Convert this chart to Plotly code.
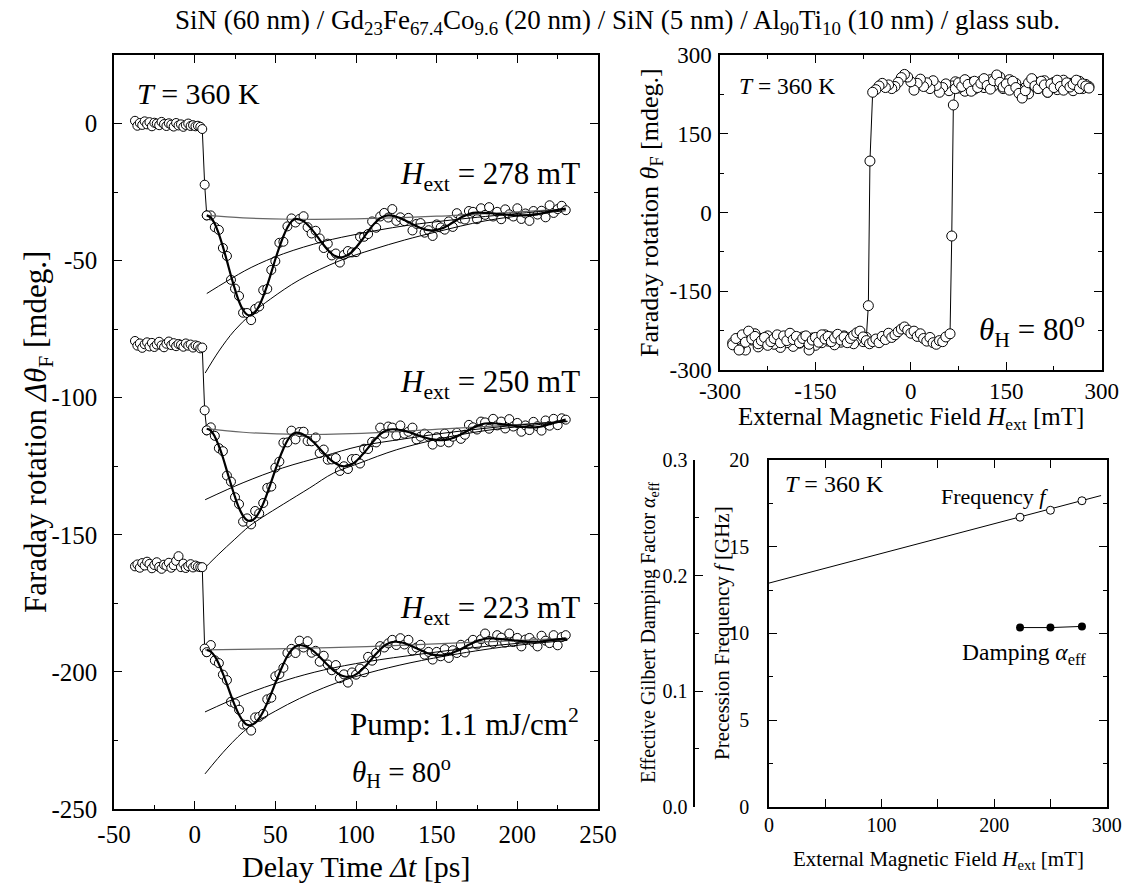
import plotly.graph_objects as go

SERIF = "Liberation Serif"
W, H = 1123, 886

# ---------------- Left panel: time-resolved Faraday rotation ----------------
t_pre = [-37, -35.5, -34, -32.5, -31, -29.5, -28, -26.5, -25, -23.5, -22, -20.5, -19, -17.5,
         -16, -14.5, -13, -11.5, -10, -8.5, -7, -5.5, -4, -2.5, -1, 0.5, 2, 3.5]
t_drop = [4.7, 6.2]
t_post = [7.5, 10, 12.5, 15, 17.5, 20, 22.5, 25, 27.5, 30,
          32.5, 35, 37.5, 40, 42.5, 45, 47.5, 50, 52.5, 55,
          57.5, 60, 62.5, 65, 67.5, 70, 72.5, 75, 77.5, 80,
          82.5, 85, 87.5, 90, 92.5, 95, 97.5, 100, 102.5, 105,
          107.5, 110, 112.5, 115, 117.5, 120, 122.5, 125, 127.5, 130,
          132.5, 135, 137.5, 140, 142.5, 145, 147.5, 150, 152.5, 155,
          157.5, 160, 162.5, 165, 167.5, 170, 172.5, 175, 177.5, 180,
          182.5, 185, 187.5, 190, 192.5, 195, 197.5, 200, 202.5, 205,
          207.5, 210, 212.5, 215, 217.5, 220, 222.5, 225, 227.5, 230]

# H = 278 mT
pre_278 = [1.0, -0.8, 0.2, -0.5, 0.8, -0.3, 0.5, -1.0, 0.3, 0.0, -0.6, 0.6, -0.2, -0.9,
           0.1, -0.4, -1.1, 0.2, -0.7, -0.3, -1.2, -0.5, 0.0, -0.9, -0.6, -1.0, -0.8, -1.2]
drop_278 = [-2.0, -22.3]
data_278 = [-33.5, -33.5, -37.8, -38.8, -45.4, -48.3, -57.0, -60.2, -62.9, -69.0,
            -69.1, -71.7, -67.6, -66.7, -60.8, -60.3, -53.4, -50.2, -43.5, -43.1,
            -37.5, -34.6, -36.1, -34.8, -33.8, -37.8, -40.1, -39.1, -41.9, -45.4,
            -43.8, -48.1, -47.4, -50.7, -47.9, -46.5, -47.0, -46.9, -41.3, -41.3,
            -40.3, -35.7, -38.0, -33.9, -32.6, -34.3, -31.2, -35.5, -34.2, -35.6,
            -34.4, -39.0, -36.6, -36.3, -39.8, -38.9, -41.0, -36.8, -37.9, -38.7,
            -35.7, -37.7, -32.7, -34.6, -35.0, -31.9, -32.2, -34.9, -30.9, -33.3,
            -30.5, -33.9, -32.2, -34.9, -31.3, -33.1, -33.9, -30.9, -34.8, -32.8,
            -35.5, -31.9, -33.2, -31.8, -34.2, -29.8, -32.6, -31.2, -30.0, -31.6]
fit_278 = [-33.5, -34.3, -36.6, -40.3, -44.9, -50.1, -55.5, -60.5, -64.9, -68.0,
           -69.7, -69.9, -68.8, -66.4, -63.0, -58.9, -54.3, -49.5, -45.1, -41.1,
           -37.9, -35.7, -34.8, -35.0, -35.7, -36.9, -38.5, -40.4, -42.4, -44.3,
           -46.1, -47.5, -48.4, -48.8, -48.6, -47.9, -46.8, -45.2, -43.4, -41.4,
           -39.3, -37.4, -35.8, -34.5, -33.8, -33.5, -33.6, -34.0, -34.5, -35.2,
           -35.9, -36.7, -37.5, -38.1, -38.6, -38.9, -39.0, -38.8, -38.4, -37.8,
           -37.0, -36.1, -35.2, -34.3, -33.6, -33.0, -32.6, -32.5, -32.5, -32.6,
           -32.7, -32.8, -33.0, -33.1, -33.2, -33.3, -33.4, -33.5, -33.5, -33.5,
           -33.4, -33.3, -33.1, -32.8, -32.5, -32.1, -31.8, -31.5, -31.2, -31.0]
base_278_t = [7.5, 30, 60, 100, 150, 200, 230]
base_278 = [-33.5, -34.4, -34.9, -34.8, -33.8, -32.2, -31.2]
mid_278_t = [7.5, 20, 35, 55, 80, 102, 130, 170, 210, 230]
mid_278 = [-62.0, -57.5, -52.5, -47.5, -43.0, -40.2, -37.3, -34.5, -32.3, -31.3]
low_278_t = [6.5, 15, 24.5, 35, 47, 65, 90, 110, 130, 150, 180, 210, 230]
low_278 = [-91.0, -83.0, -75.6, -69.5, -64.0, -57.0, -50.0, -46.0, -42.5, -39.5, -35.5, -33.0, -31.8]

# H = 250 mT
pre_250 = [-79.3, -81.0, -80.2, -81.8, -80.5, -79.8, -81.3, -80.0, -81.5, -80.6, -79.6, -80.9, -81.6, -80.3,
           -79.5, -80.8, -80.1, -81.2, -80.4, -80.7, -81.4, -80.2, -81.0, -80.6, -81.7, -80.9, -81.2, -82.0]
drop_250 = [-81.7, -104.6]
data_250 = [-111.9, -110.8, -113.9, -118.4, -119.5, -128.4, -130.6, -136.3, -138.8, -145.2,
            -144.0, -146.2, -141.3, -142.2, -138.4, -132.9, -132.4, -125.5, -123.3, -116.4,
            -116.3, -112.0, -115.2, -112.5, -112.4, -115.8, -115.9, -114.5, -120.2, -118.9,
            -122.6, -122.5, -122.0, -126.7, -125.0, -126.0, -122.4, -122.3, -124.0, -118.6,
            -118.7, -116.1, -116.3, -110.9, -113.1, -110.5, -110.9, -113.8, -110.1, -113.1,
            -112.4, -110.9, -115.2, -114.2, -113.1, -114.2, -117.1, -114.4, -116.1, -113.1,
            -116.3, -114.2, -112.8, -115.0, -113.5, -109.9, -110.8, -111.6, -108.7, -109.0,
            -111.3, -107.7, -110.1, -108.7, -111.2, -107.8, -110.5, -109.2, -112.4, -110.1,
            -111.8, -108.8, -110.4, -112.0, -108.3, -110.2, -107.7, -110.0, -107.5, -108.0]
fit_250 = [-111.3, -112.0, -114.2, -117.6, -121.8, -126.7, -131.6, -136.2, -140.2, -143.1,
           -144.7, -144.9, -143.9, -141.7, -138.6, -134.8, -130.6, -126.3, -122.2, -118.6,
           -115.6, -113.6, -112.8, -112.9, -113.5, -114.4, -115.6, -117.0, -118.6, -120.2,
           -121.7, -123.0, -124.0, -124.7, -125.0, -124.8, -124.2, -123.2, -121.7, -120.1,
           -118.3, -116.4, -114.8, -113.3, -112.3, -111.7, -111.5, -111.6, -111.8, -112.1,
           -112.5, -113.0, -113.5, -114.0, -114.5, -114.9, -115.2, -115.4, -115.5, -115.4,
           -115.2, -114.7, -114.1, -113.4, -112.6, -111.8, -111.0, -110.3, -109.8, -109.4,
           -109.3, -109.3, -109.4, -109.6, -109.8, -110.0, -110.2, -110.4, -110.6, -110.7,
           -110.8, -110.8, -110.7, -110.5, -110.1, -109.7, -109.2, -108.8, -108.3, -108.0]
base_250_t = [7.5, 30, 65, 110, 160, 200, 231]
base_250 = [-111.3, -112.6, -113.4, -112.8, -111.2, -109.8, -108.5]
mid_250_t = [6.5, 30, 54.6, 80, 102, 130, 160, 200, 231]
mid_250 = [-137.2, -131.0, -125.6, -121.3, -117.7, -115.0, -112.5, -110.0, -108.6]
low_250_t = [6.4, 15, 24.5, 34, 42.2, 55, 71.3, 86, 102.4, 125, 150, 180, 210, 231]
low_250 = [-162.0, -157.0, -151.8, -146.8, -143.5, -138.8, -132.9, -127.5, -123.8, -119.0, -115.2, -112.0, -110.0, -108.7]

# H = 223 mT
pre_223 = [-161.5, -160.8, -162.0, -160.3, -161.2, -159.8, -160.6, -162.2, -161.0, -160.0, -161.7, -162.4, -160.9, -161.3,
           -160.2, -162.0, -161.1, -159.5, -157.8, -161.8, -160.5, -162.1, -161.4, -160.7, -161.9, -161.2, -161.6, -161.8]
drop_223 = [-161.8, -191.5]
data_223 = [-192.8, -190.2, -195.8, -196.8, -201.0, -203.0, -210.9, -211.5, -213.8, -219.2,
            -219.3, -221.4, -216.6, -216.4, -215.3, -210.0, -209.4, -201.6, -200.8, -198.5,
            -193.1, -191.6, -193.1, -188.6, -191.1, -188.8, -193.0, -192.3, -196.3, -194.1,
            -197.3, -199.4, -197.5, -202.3, -200.9, -203.9, -200.2, -201.0, -198.8, -200.1,
            -194.5, -195.9, -193.1, -190.6, -191.1, -189.6, -188.3, -190.2, -187.7, -190.0,
            -188.3, -192.2, -191.1, -190.1, -193.7, -192.7, -195.5, -192.7, -194.3, -191.7,
            -194.9, -192.1, -193.1, -190.1, -192.9, -189.7, -188.3, -190.0, -188.1, -186.0,
            -188.7, -189.4, -186.6, -187.5, -189.3, -186.0, -189.1, -187.6, -190.7, -188.2,
            -187.6, -189.2, -190.7, -186.8, -188.6, -189.5, -186.6, -190.3, -187.3, -186.6]
fit_223 = [-192.0, -192.6, -194.3, -197.1, -200.6, -204.5, -208.6, -212.4, -215.6, -218.0,
           -219.3, -219.4, -218.6, -216.9, -214.4, -211.3, -207.8, -204.1, -200.5, -197.1,
           -194.2, -192.0, -190.7, -190.2, -190.4, -191.0, -191.9, -193.1, -194.5, -196.0,
           -197.5, -198.9, -200.1, -201.0, -201.6, -201.8, -201.6, -200.9, -199.8, -198.4,
           -196.8, -195.1, -193.4, -191.8, -190.5, -189.6, -189.1, -189.0, -189.2, -189.5,
           -190.1, -190.7, -191.4, -192.1, -192.7, -193.3, -193.7, -193.9, -194.0, -193.9,
           -193.5, -193.0, -192.4, -191.7, -190.9, -190.1, -189.4, -188.7, -188.3, -187.9,
           -187.8, -187.8, -187.9, -188.0, -188.2, -188.3, -188.5, -188.6, -188.8, -188.9,
           -189.0, -189.0, -189.0, -188.9, -188.7, -188.5, -188.3, -188.1, -187.9, -187.8]
base_223_t = [6.4, 50, 106.6, 160, 231]
base_223 = [-192.0, -191.6, -190.8, -189.5, -187.8]
mid_223_t = [6.4, 30, 56.7, 80, 106.6, 140, 169, 200, 231]
mid_223 = [-214.6, -208.5, -203.0, -199.3, -196.3, -193.5, -191.4, -189.6, -188.0]
low_223_t = [6.4, 20, 33.9, 50, 65, 80, 96, 120, 148, 190, 231]
low_223 = [-237.2, -227.8, -220.0, -214.3, -209.7, -205.8, -202.4, -198.5, -195.0, -191.0, -188.5]

# ---------------- Top-right: hysteresis loop ----------------
hys_H = [280, 275, 270, 265, 260, 255, 250, 245, 240, 235,
         230, 225, 220, 215, 210, 205, 200, 195, 190, 185,
         180, 175, 170, 165, 160, 155, 150, 145, 140, 135,
         130, 125, 120, 115, 110, 105, 100, 95, 90, 85,
         80, 75, 70, 65, 60, 55, 50, 45, 40, 35,
         30, 25, 20, 15, 10, 5, 0, -5, -10, -15,
         -20, -25, -30, -35, -40, -45, -50, -55, -60,
         -64.3, -66.8,
         -70, -75, -80, -85, -90, -95, -100, -105, -110, -115,
         -120, -125, -130, -135, -140, -145, -150, -155, -160, -165,
         -170, -175, -180, -185, -190, -195, -200, -205, -210, -215,
         -220, -225, -230, -235, -240, -245, -250, -255, -260, -265,
         -270, -275, -280,
         -280, -275, -270, -265, -260, -255, -250, -245, -240, -235,
         -230, -225, -220, -215, -210, -205, -200, -195, -190, -185,
         -180, -175, -170, -165, -160, -155, -150, -145, -140, -135,
         -130, -125, -120, -115, -110, -105, -100, -95, -90, -85,
         -80, -75, -70, -65, -60, -55, -50, -45, -40, -35,
         -30, -25, -20, -15, -10, -5, 0, 5, 10, 15,
         20, 25, 30, 35, 40, 45, 50, 55,
         61.6, 64.3, 66.8,
         70, 75, 80, 85, 90, 95, 100, 105, 110, 115,
         120, 125, 130, 135, 140, 145, 150, 155, 160, 165,
         170, 175, 180, 185, 190, 195, 200, 205, 210, 215,
         220, 225, 230, 235, 240, 245, 250, 255, 260, 265,
         270, 275, 280]
hys_F = [240, 244, 236, 250, 241, 232, 246, 238, 252, 243,
         234, 248, 240, 229, 251, 244, 236, 249, 240, 226,
         238, 222, 234, 246, 240, 253, 244, 236, 258, 249,
         241, 253, 245, 238, 250, 243, 235, 248, 240, 231,
         244, 237, 249, 241, 232, 245, 238, 229, 242, 251,
         236, 247, 240, 254, 246, 233, 249, 258, 263, 257,
         248, 240, 236, 243, 238, 246, 241, 234, 229,
         98, -177.5,
         -238, -246, -232, -242, -250, -238, -244, -235, -247, -240,
         -252, -237, -245, -233, -248, -241, -253, -239, -262, -246,
         -237, -249, -241, -255, -236, -248, -243, -257, -238, -251,
         -244, -235, -249, -240, -256, -231, -243, -228, -262, -250,
         -258, -244, -248,
         -252, -240, -262, -233, -247, -226, -241, -236, -250, -244,
         -238, -253, -246, -240, -233, -248, -235, -244, -230, -242,
         -236, -248, -240, -235, -251, -243, -238, -247, -233, -241,
         -236, -246, -239, -232, -243, -237, -248, -240, -234, -229,
         -226, -237, -244, -250, -246, -241, -248, -236, -242, -230,
         -238, -233, -227, -222, -218, -224, -230, -226, -236, -231,
         -240, -245, -238, -248, -251, -244, -246, -237,
         -231, -44.8, 204.8,
         236, 247, 240, 253, 244, 231, 250, 238, 246, 255,
         242, 235, 251, 262, 248, 239, 245, 233, 250, 238,
         227, 218, 232, 247, 255, 241, 236, 250, 243, 229,
         245, 238, 252, 240, 233, 247, 239, 244, 252, 236,
         245, 241, 237]

# ---------------- Bottom-right: frequency & damping vs field ----------------
field_pts = [223, 250, 278]
freq_pts = [16.7, 17.1, 17.65]
damp_pts = [0.155, 0.155, 0.156]
freq_fit_H = [0, 295]
freq_fit = [12.9, 17.95]

# ---------------- Figure ----------------
fig = go.Figure()

def px(x):
    return x / W

def py(y):
    return 1 - y / H

MK = dict(symbol="circle", color="white", size=9, line=dict(color="black", width=1))

series = [
    (pre_278, drop_278, data_278, fit_278, base_278_t, base_278, mid_278_t, mid_278, low_278_t, low_278),
    (pre_250, drop_250, data_250, fit_250, base_250_t, base_250, mid_250_t, mid_250, low_250_t, low_250),
    (pre_223, drop_223, data_223, fit_223, base_223_t, base_223, mid_223_t, mid_223, low_223_t, low_223),
]
for pre, drop, data, fit, bt, bv, mt, mv, lt, lv in series:
    fig.add_trace(go.Scatter(x=t_post, y=data, mode="markers", marker=MK,
                             xaxis="x", yaxis="y", showlegend=False))
    fig.add_trace(go.Scatter(x=t_pre + t_drop + t_post[:1], y=pre + drop + data[:1],
                             mode="lines+markers", marker=MK, line=dict(color="black", width=1),
                             xaxis="x", yaxis="y", showlegend=False))
    fig.add_trace(go.Scatter(x=bt, y=bv, mode="lines",
                             line=dict(color="#666666", width=1.2, shape="spline"),
                             xaxis="x", yaxis="y", showlegend=False))
    fig.add_trace(go.Scatter(x=mt, y=mv, mode="lines",
                             line=dict(color="black", width=1, shape="spline"),
                             xaxis="x", yaxis="y", showlegend=False))
    fig.add_trace(go.Scatter(x=lt, y=lv, mode="lines",
                             line=dict(color="black", width=1, shape="spline"),
                             xaxis="x", yaxis="y", showlegend=False))
    fig.add_trace(go.Scatter(x=t_post, y=fit, mode="lines",
                             line=dict(color="black", width=2.2, shape="spline"),
                             xaxis="x", yaxis="y", showlegend=False))

# hysteresis
fig.add_trace(go.Scatter(x=hys_H, y=hys_F, mode="lines+markers",
                         marker=dict(symbol="circle", color="white", size=10,
                                     line=dict(color="black", width=1)),
                         line=dict(color="black", width=1),
                         xaxis="x2", yaxis="y2", showlegend=False))

# frequency
fig.add_trace(go.Scatter(x=freq_fit_H, y=freq_fit, mode="lines",
                         line=dict(color="black", width=1),
                         xaxis="x3", yaxis="y3", showlegend=False))
fig.add_trace(go.Scatter(x=field_pts, y=freq_pts, mode="markers",
                         marker=dict(symbol="circle", color="white", size=8,
                                     line=dict(color="black", width=1)),
                         xaxis="x3", yaxis="y3", showlegend=False))
fig.add_trace(go.Scatter(x=field_pts, y=damp_pts, mode="lines+markers",
                         marker=dict(symbol="circle", color="black", size=8),
                         line=dict(color="black", width=1),
                         xaxis="x3", yaxis="y4", showlegend=False))

def ax(size, **kw):
    d = dict(showline=True, linecolor="black", linewidth=1.5, mirror="allticks",
             ticks="inside", ticklen=8, tickwidth=1.3, tickcolor="black",
             showgrid=False, zeroline=False, automargin=False,
             tickfont=dict(family=SERIF, size=size, color="black"))
    d.update(kw)
    return d

def minor(vals, ln=4):
    return dict(tickmode="array", tickvals=vals, ticks="inside", ticklen=ln,
                tickwidth=1.2, tickcolor="black")

x1_ticks = [-50, 0, 50, 100, 150, 200, 250]
y1_ticks = [-250, -200, -150, -100, -50, 0]
hy_ticks = [-300, -150, 0, 150, 300]
x3_ticks = [0, 100, 200, 300]
y3_ticks = [0, 5, 10, 15, 20]
y4_ticks = [0, 0.1, 0.2, 0.3]

fig.update_layout(
    width=W, height=H, margin=dict(l=0, r=0, t=0, b=0, autoexpand=False),
    paper_bgcolor="white", plot_bgcolor="white", showlegend=False,
    font=dict(family=SERIF, color="black"),
    xaxis=ax(25, domain=[px(114), px(598)], range=[-50, 250], anchor="y",
             tickmode="array", tickvals=x1_ticks, ticktext=[str(v) for v in x1_ticks],
             minor=minor([-25, 25, 75, 125, 175, 225]), ticklabelstandoff=2),
    yaxis=ax(25, domain=[py(809), py(55)], range=[-250, 25], anchor="x",
             tickmode="array", tickvals=y1_ticks, ticktext=[str(v) for v in y1_ticks],
             minor=minor([-225, -175, -125, -75, -25]), ticklabelstandoff=10),
    xaxis2=ax(23, domain=[px(720), px(1101.7)], range=[-300, 300], anchor="y2",
              tickmode="array", tickvals=hy_ticks, ticktext=[str(v) for v in hy_ticks],
              minor=minor([-225, -75, 75, 225]), ticklabelstandoff=0),
    yaxis2=ax(23, domain=[py(370), py(55)], range=[-300, 300], anchor="x2",
              tickmode="array", tickvals=hy_ticks, ticktext=[str(v) for v in hy_ticks],
              minor=minor([-225, -75, 75, 225]), ticklabelstandoff=2),
    xaxis3=ax(20, domain=[px(769), px(1106.7)], range=[0, 300], anchor="y3",
              tickmode="array", tickvals=x3_ticks, ticktext=[str(v) for v in x3_ticks],
              minor=minor([50, 150, 250]), ticklabelstandoff=0),
    yaxis3=ax(20, domain=[py(806.7), py(460)], range=[0, 20], anchor="x3",
              tickmode="array", tickvals=y3_ticks, ticktext=[str(v) for v in y3_ticks],
              minor=minor([2.5, 7.5, 12.5, 17.5]), ticklabelstandoff=14),
    yaxis4=dict(overlaying="y3", anchor="free", position=px(694.3), side="left",
                range=[0, 0.3], showline=True, linecolor="black", linewidth=1.5,
                ticks="inside", ticklen=8, tickwidth=1.3, tickcolor="black",
                showgrid=False, zeroline=False, mirror=False, automargin=False,
                tickmode="array", tickvals=y4_ticks, ticktext=["0.0", "0.1", "0.2", "0.3"],
                minor=minor([0.05, 0.15, 0.25]), ticklabelstandoff=2,
                tickfont=dict(family=SERIF, size=20, color="black")),
)

def ann(text, x, y, size, xanchor="center", yanchor="middle", angle=0):
    return dict(text=text, x=px(x), y=py(y), xref="paper", yref="paper",
                xanchor=xanchor, yanchor=yanchor, showarrow=False, textangle=angle,
                font=dict(family=SERIF, size=size, color="black"))

annotations = [
    ann("SiN (60 nm) / Gd<sub>23</sub>Fe<sub>67.4</sub>Co<sub>9.6</sub> (20 nm) / SiN (5 nm) / "
        "Al<sub>90</sub>Ti<sub>10</sub> (10 nm) / glass sub.", 617, 22, 27),
    # left panel
    ann("<i>T</i> = 360 K", 135, 93, 30, xanchor="left"),
    ann("<i>H</i><sub>ext</sub> = 278 mT", 582, 176, 31, xanchor="right"),
    ann("<i>H</i><sub>ext</sub> = 250 mT", 582, 384, 31, xanchor="right"),
    ann("<i>H</i><sub>ext</sub> = 223 mT", 582, 610, 31, xanchor="right"),
    ann("Pump: 1.1 mJ/cm<sup>2</sup>", 348, 722, 31, xanchor="left"),
    ann("<i>θ</i><sub>H</sub> = 80<sup>o</sup>", 350, 772, 29, xanchor="left"),
    ann("Delay Time <i>Δt</i> [ps]", 356, 866, 30),
    ann("Faraday rotation <i>Δθ</i><sub>F</sub> [mdeg.]", 38, 432, 31, angle=-90),
    # top-right panel
    ann("<i>T</i> = 360 K", 737, 86, 23.5, xanchor="left"),
    ann("<i>θ</i><sub>H</sub> = 80<sup>o</sup>", 1087, 330, 31, xanchor="right"),
    ann("External Magnetic Field <i>H</i><sub>ext</sub> [mT]", 911, 419, 25),
    ann("Faraday rotation <i>θ</i><sub>F</sub> [mdeg.]", 651, 213, 26, angle=-90),
    # bottom-right panel
    ann("<i>T</i> = 360 K", 783, 484, 24, xanchor="left"),
    ann("Frequency <i>f</i>", 1050, 496, 22, xanchor="right"),
    ann("Damping <i>α</i><sub>eff</sub>", 1088, 654, 23.5, xanchor="right"),
    ann("External Magnetic Field <i>H</i><sub>ext</sub> [mT]", 938, 860, 21),
    ann("Precession Frequency <i>f</i> [GHz]", 722, 633, 21, angle=-90),
    ann("Effective Gilbert Damping Factor <i>α</i><sub>eff</sub>", 649, 633, 20, angle=-90),
]
fig.update_layout(annotations=annotations)

fig.write_html("out.html")
